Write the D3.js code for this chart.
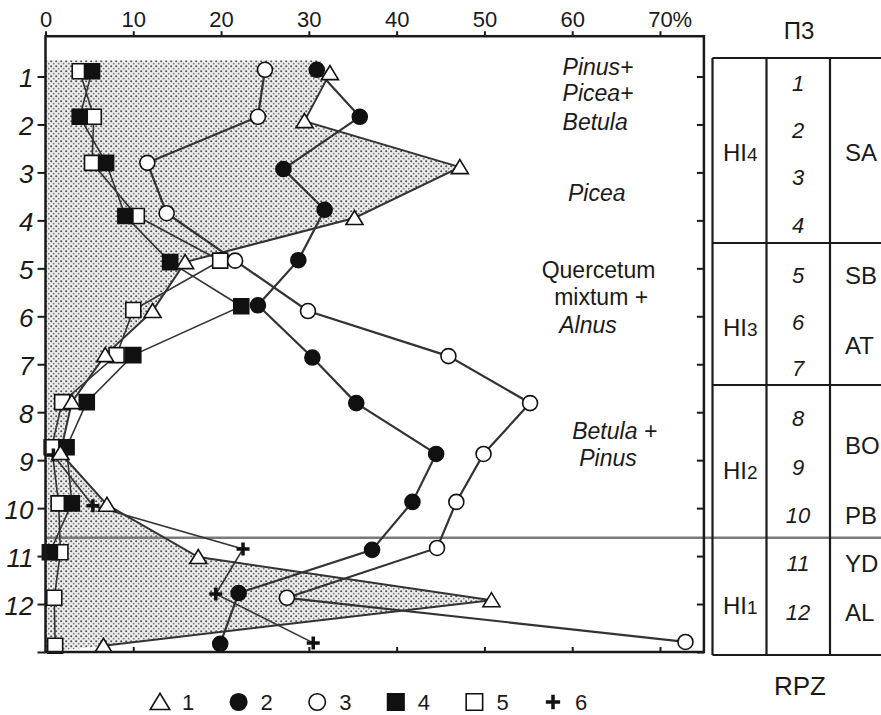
<!DOCTYPE html>
<html>
<head>
<meta charset="utf-8">
<script src="https://cdn.jsdelivr.net/npm/d3@7"></script>
<style>
body { margin: 0; background: #fff; }
svg { display: block; font-family: "Liberation Sans", Arial, sans-serif; }
</style>
</head>
<body>
<svg id="chart" width="881" height="715"></svg>
<script>
// percent values and sample depth (in zone units) for each series
var s1Val = [32.4, 29.5, 47.2, 35.2, 15.9, 12.2, 6.8, 3.0, 1.7, 7.0, 17.4, 50.8, 6.6];
var s1Dep = [0.93, 1.93, 2.89, 3.95, 4.87, 5.89, 6.81, 7.79, 8.85, 9.93, 11.02, 11.92, 12.87];
var s2Val = [30.9, 35.8, 27.1, 31.8, 28.8, 24.2, 30.4, 35.4, 44.5, 41.8, 37.2, 22.0, 19.9];
var s2Dep = [0.86, 1.84, 2.93, 3.78, 4.83, 5.77, 6.86, 7.81, 8.87, 9.87, 10.87, 11.77, 12.83];
var s3Val = [25.0, 24.2, 11.6, 13.8, 21.6, 29.9, 45.9, 55.2, 49.9, 46.8, 44.6, 27.5, 72.9];
var s3Dep = [0.86, 1.84, 2.80, 3.85, 4.84, 5.89, 6.83, 7.81, 8.87, 9.87, 10.83, 11.87, 12.79];
var s4Val = [5.3, 3.9, 6.9, 9.1, 14.2, 22.3, 10.0, 4.7, 2.4, 3.0, 0.5];
var s4Dep = [0.89, 1.84, 2.80, 3.91, 4.87, 5.79, 6.81, 7.79, 8.73, 9.90, 10.92];
var s5Val = [3.9, 5.5, 5.3, 10.4, 19.9, 10.0, 8.1, 1.9, 0.7, 1.5, 1.7, 1.0, 1.1];
var s5Dep = [0.89, 1.84, 2.80, 3.91, 4.84, 5.87, 6.81, 7.79, 8.73, 9.90, 10.92, 11.87, 12.87];
var s6Val = [0.9, 5.4, 22.5, 19.4, 30.5];
var s6Dep = [8.89, 9.95, 10.85, 11.79, 12.81];

var areaTop = 0.66;      // upper edge of the stippled zone
var boundaryDepth = 10.62; // grey horizontal boundary

var xTicks = [0, 10, 20, 30, 40, 50, 60, 70];
var depthTicks = [1, 2, 3, 4, 5, 6, 7, 8, 9, 10, 11, 12, 13];
var depthLabels = ["1", "2", "3", "4", "5", "6", "7", "8", "9", "10", "11", "12", ""];
var legendLabels = ["1", "2", "3", "4", "5", "6"];

var svg = d3.select("#chart");
var x = d3.scaleLinear().domain([0, 70]).range([45.5, 660]);
var y = d3.scaleLinear().domain([1, 13]).range([76.5, 652]);
var plotL = x(0), plotR = x(75), plotT = y(0.16), plotB = y(13);

var series = [
  { val: s1Val, dep: s1Dep, shape: "tri", fill: "#fff", w: 2 },
  { val: s2Val, dep: s2Dep, shape: "circle", fill: "#111", w: 2.2 },
  { val: s3Val, dep: s3Dep, shape: "circle", fill: "#fff", w: 2.2 },
  { val: s4Val, dep: s4Dep, shape: "square", fill: "#111", w: 1.6 },
  { val: s5Val, dep: s5Dep, shape: "square", fill: "#fff", w: 1.6 },
  { val: s6Val, dep: s6Dep, shape: "plus", fill: "none", w: 1.6 }
];

function shapePath(shape, k) {
  k = k || 1;
  if (shape === "tri") return "M" + (-8.5 * k) + "," + (6.5 * k) + "L" + (8.5 * k) + "," + (6.5 * k) + "L0," + (-7.5 * k) + "Z";
  if (shape === "square") return "M" + (-7.5 * k) + "," + (-7.5 * k) + "h" + (15 * k) + "v" + (15 * k) + "h" + (-15 * k) + "Z";
  if (shape === "plus") return "M" + (-6.5 * k) + ",0H" + (6.5 * k) + "M0," + (-6.5 * k) + "V" + (6.5 * k);
  var r = 7.5 * k;
  return "M" + (-r) + ",0A" + r + "," + r + " 0 1,0 " + r + ",0A" + r + "," + r + " 0 1,0 " + (-r) + ",0Z";
}

function drawMarker(g, s, k) {
  var p = g.append("path").attr("d", shapePath(s.shape, k));
  if (s.shape === "plus") {
    p.attr("fill", "none").attr("stroke", "#111").attr("stroke-width", 3.5);
  } else {
    p.attr("fill", s.fill).attr("stroke", "#111").attr("stroke-width", 1.6);
  }
}

// stipple pattern
var defs = svg.append("defs");
var pat = defs.append("pattern").attr("id", "dots")
  .attr("width", 5).attr("height", 5).attr("patternUnits", "userSpaceOnUse");
pat.append("rect").attr("width", 5).attr("height", 5).attr("fill", "#ececec");
pat.append("circle").attr("cx", 1.2).attr("cy", 1.2).attr("r", 1.05).attr("fill", "#505050");
pat.append("circle").attr("cx", 3.7).attr("cy", 3.7).attr("r", 0.9).attr("fill", "#7a7a7a");

// stippled area of series 1
var areaPts = [[0, areaTop], [s1Val[0] - 1.2, areaTop]];
s1Val.forEach(function (v, i) { areaPts.push([v, s1Dep[i]]); });
areaPts.push([0, 13]);
var lineGen = d3.line().x(function (d) { return x(d[0]); }).y(function (d) { return y(d[1]); });
svg.append("path")
  .attr("d", lineGen(areaPts) + "Z")
  .attr("fill", "url(#dots)");

// grey boundary line through plot and table
svg.append("line")
  .attr("x1", plotL).attr("x2", 881)
  .attr("y1", y(boundaryDepth)).attr("y2", y(boundaryDepth))
  .attr("stroke", "#7a7a7a").attr("stroke-width", 2.5);

// series lines
series.forEach(function (s) {
  var pts = s.val.map(function (v, i) { return [v, s.dep[i]]; });
  svg.append("path")
    .attr("d", lineGen(pts))
    .attr("fill", "none")
    .attr("stroke", "#333")
    .attr("stroke-width", s.w);
});

// markers
[4, 3, 5, 0, 2, 1].forEach(function (si) {
  var s = series[si];
  s.val.forEach(function (v, i) {
    var g = svg.append("g").attr("transform", "translate(" + x(v) + "," + y(s.dep[i]) + ")");
    drawMarker(g, s, 1);
  });
});

// frame and axes
svg.append("rect")
  .attr("x", plotL).attr("y", plotT)
  .attr("width", plotR - plotL).attr("height", plotB - plotT)
  .attr("fill", "none").attr("stroke", "#1a1a1a").attr("stroke-width", 2.5);

var topAxis = svg.append("g")
  .attr("transform", "translate(0," + plotT + ")")
  .call(d3.axisTop(x).tickValues(xTicks).tickSize(5).tickPadding(4).tickSizeOuter(0));
topAxis.select(".domain").remove();
topAxis.selectAll("line").attr("stroke", "#1a1a1a").attr("stroke-width", 2);
topAxis.selectAll("text").attr("font-size", 22).attr("fill", "#1a1a1a")
  .attr("font-family", "'Liberation Sans', Arial, sans-serif");
svg.append("text").attr("x", x(70) + 12.5).attr("y", plotT - 9)
  .attr("font-size", 22).attr("fill", "#1a1a1a").text("%");

var botAxis = svg.append("g")
  .attr("transform", "translate(0," + plotB + ")")
  .call(d3.axisTop(x).tickValues(xTicks.slice(1)).tickSize(5).tickFormat(""));
botAxis.select(".domain").remove();
botAxis.selectAll("line").attr("stroke", "#1a1a1a").attr("stroke-width", 2);

var leftAxis = svg.append("g")
  .attr("transform", "translate(" + plotL + ",0)")
  .call(d3.axisLeft(y).tickValues(depthTicks).tickSize(8).tickPadding(4)
    .tickFormat(function (d, i) { return depthLabels[i]; }));
leftAxis.select(".domain").remove();
leftAxis.selectAll("line").attr("stroke", "#1a1a1a").attr("stroke-width", 2);
leftAxis.selectAll("text").attr("font-size", 26).attr("font-style", "italic")
  .attr("fill", "#1a1a1a").attr("dy", "0.4em")
  .attr("font-family", "'Liberation Sans', Arial, sans-serif");

var rightAxis = svg.append("g")
  .attr("transform", "translate(" + plotR + ",0)")
  .call(d3.axisLeft(y).tickValues(depthTicks).tickSize(7).tickFormat(""));
rightAxis.select(".domain").remove();
rightAxis.selectAll("line").attr("stroke", "#1a1a1a").attr("stroke-width", 2);

// vegetation annotations (x in %, y in zone units)
var notes = [
  { t: "Pinus+", v: 58.9, d: 0.80, it: true, a: "start" },
  { t: "Picea+", v: 58.9, d: 1.34, it: true, a: "start" },
  { t: "Betula", v: 58.9, d: 1.95, it: true, a: "start" },
  { t: "Picea", v: 62.8, d: 3.43, it: true, a: "middle" },
  { t: "Quercetum", v: 63.0, d: 5.03, it: false, a: "middle" },
  { t: "mixtum +", v: 63.3, d: 5.60, it: false, a: "middle" },
  { t: "Alnus", v: 61.8, d: 6.18, it: true, a: "middle" },
  { t: "Betula +", v: 60.0, d: 8.39, it: true, a: "start" },
  { t: "Pinus", v: 60.8, d: 8.95, it: true, a: "start" }
];
svg.selectAll(".note").data(notes).enter().append("text")
  .attr("class", "note")
  .attr("x", function (d) { return x(d.v); })
  .attr("y", function (d) { return y(d.d) + 8; })
  .attr("text-anchor", function (d) { return d.a; })
  .attr("font-style", function (d) { return d.it ? "italic" : "normal"; })
  .attr("font-size", 23).attr("fill", "#1a1a1a")
  .text(function (d) { return d.t; });

// zone table
var tbl = svg.append("g").attr("stroke", "#1a1a1a").attr("stroke-width", 2.2);
var tL = 712.5, tC1 = 766.5, tC2 = 830, tR = 895, tT = 58, tB = 655;
tbl.append("line").attr("x1", tL).attr("x2", tR).attr("y1", tT).attr("y2", tT);
tbl.append("line").attr("x1", tL).attr("x2", tR).attr("y1", tB).attr("y2", tB);
[tL, tC1, tC2].forEach(function (cx) {
  tbl.append("line").attr("x1", cx).attr("x2", cx).attr("y1", tT).attr("y2", tB);
});
[243, 385].forEach(function (ry) {
  tbl.append("line").attr("x1", tL).attr("x2", tR).attr("y1", ry).attr("y2", ry);
});

var hiZones = ["4", "3", "2", "1"];
var hiY = [152, 327, 470, 605];
var pzRows = ["1", "2", "3", "4", "5", "6", "7", "8", "9", "10", "11", "12"];
var pzY = [83, 130, 177, 225, 275, 322, 368, 418, 467, 515, 563, 612];
var rpz = ["SA", "SB", "AT", "BO", "PB", "YD", "AL"];
var rpzY = [152, 275, 345, 445, 515, 563, 612];

hiZones.forEach(function (z, i) {
  var t = svg.append("text").attr("x", 723).attr("y", hiY[i] + 9)
    .attr("font-size", 24).attr("fill", "#1a1a1a");
  t.append("tspan").text("HI");
  t.append("tspan").attr("font-size", 19).text(z);
});
pzRows.forEach(function (r, i) {
  svg.append("text").attr("x", 798).attr("y", pzY[i] + 8)
    .attr("text-anchor", "middle").attr("font-style", "italic")
    .attr("font-size", 22).attr("fill", "#1a1a1a").text(r);
});
rpz.forEach(function (r, i) {
  svg.append("text").attr("x", 845).attr("y", rpzY[i] + 9)
    .attr("font-size", 24).attr("fill", "#1a1a1a").text(r);
});
svg.append("text").attr("x", 799).attr("y", 39).attr("text-anchor", "middle")
  .attr("font-size", 24).attr("fill", "#1a1a1a").text("П3");
svg.append("text").attr("x", 800).attr("y", 695).attr("text-anchor", "middle")
  .attr("font-size", 26).attr("fill", "#1a1a1a").text("RPZ");

// legend
var legX = d3.scalePoint().domain(legendLabels).range([160, 553]);
legendLabels.forEach(function (l, i) {
  var g = svg.append("g").attr("transform", "translate(" + legX(l) + ",702)");
  drawMarker(g, series[i], i === 0 ? 1.15 : 1.1);
  svg.append("text").attr("x", legX(l) + 22).attr("y", 710)
    .attr("font-size", 22).attr("fill", "#1a1a1a").text(l);
});
</script>
</body>
</html>
